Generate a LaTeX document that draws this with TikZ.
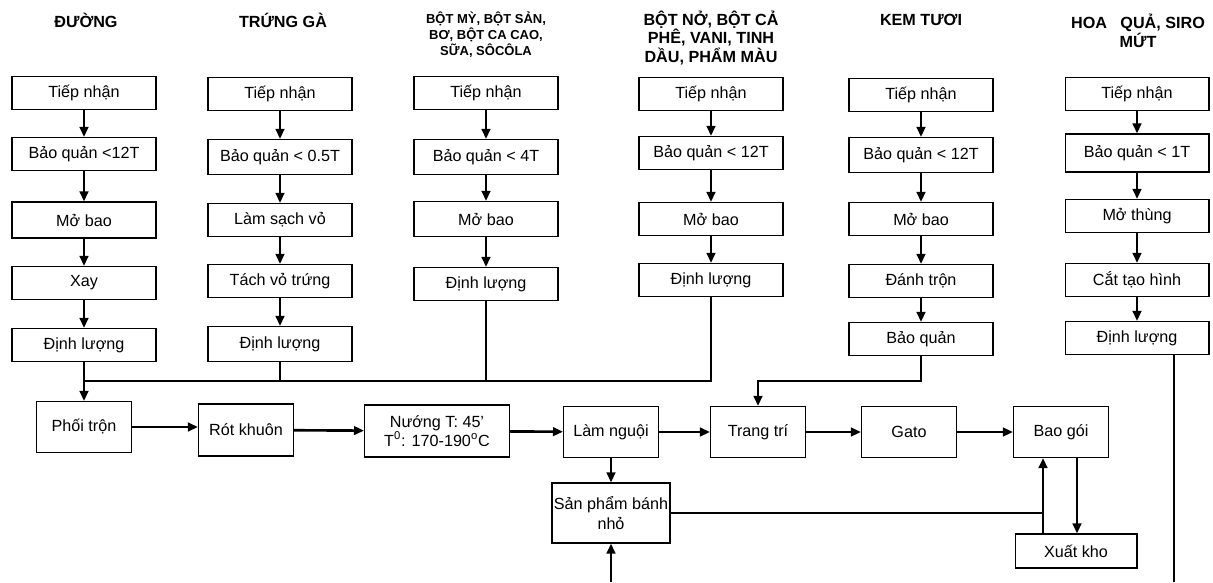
\documentclass[tikz,border=0pt]{standalone}
\usepackage{fontspec}
\setmainfont{Liberation Sans}
\usetikzlibrary{arrows.meta,positioning,calc}

\begin{document}
\begin{tikzpicture}[
  x=0.02cm, y=-0.02cm,
  box/.style={rectangle, draw, line width=0.6pt, align=center, font=\fontsize{9.2}{11}\selectfont, inner sep=1pt, minimum width=2.88cm, minimum height=0.66cm},
  stage/.style={box, minimum width=1.9cm, minimum height=1.02cm},
  head/.style={align=center, font=\fontsize{9.2}{10.6}\selectfont\bfseries},
  arrow/.style={-{Triangle[length=2mm,width=1.7mm]}, line width=1.5pt},
  link/.style={line width=1.2pt},
]
\useasboundingbox (0,0) rectangle (1213,582);

% === ĐƯỜNG ===
\node[head] (h1) at (86,20) {ĐƯỜNG};
\node[box] (d1) at (84,93) {Tiếp nhận};
\node[box] (d2) at (84,154) {Bảo quản <12T};
\node[box, minimum height=0.72cm] (d3) at (84,220) {Mở bao};
\node[box] (d4) at (84,283) {Xay};
\node[box] (d5) at (84,345) {Định lượng};
\draw[arrow] (d1) -- (d2);
\draw[arrow] (d2) -- (d3);
\draw[arrow] (d3) -- (d4);
\draw[arrow] (d4) -- (d5);

% === TRỨNG GÀ ===
\node[head] (h2) at (283,20) {TRỨNG GÀ};
\node[box] (t1) at (280,94) {Tiếp nhận};
\node[box, minimum height=0.7cm] (t2) at (280,157) {Bảo quản < 0.5T};
\node[box] (t3) at (280,220) {Làm sạch vỏ};
\node[box] (t4) at (280,281) {Tách vỏ trứng};
\node[box, minimum height=0.7cm] (t5) at (280,344) {Định lượng};
\draw[arrow] (t1) -- (t2);
\draw[arrow] (t2) -- (t3);
\draw[arrow] (t3) -- (t4);
\draw[arrow] (t4) -- (t5);

% === BỘT MỲ ===
\node[head, font=\fontsize{7.4}{9.1}\selectfont\bfseries] (h3) at (486,35) {BỘT MỲ, BỘT SẢN,\\BƠ, BỘT CA CAO,\\SỮA, SÔCÔLA};
\node[box] (b1) at (486,93) {Tiếp nhận};
\node[box, minimum height=0.7cm] (b2) at (486,157) {Bảo quản < 4T};
\node[box, minimum height=0.7cm] (b3) at (486,219) {Mở bao};
\node[box] (b4) at (486,284) {Định lượng};
\draw[arrow] (b1) -- (b2);
\draw[arrow] (b2) -- (b3);
\draw[arrow] (b3) -- (b4);

% === BỘT NỞ ===
\node[head] (h4) at (711,38) {BỘT NỞ, BỘT CẢ\\PHÊ, VANI, TINH\\DẦU, PHẨM MÀU};
\node[box] (n1) at (711,94) {Tiếp nhận};
\node[box] (n2) at (711,153) {Bảo quản < 12T};
\node[box] (n3) at (711,219) {Mở bao};
\node[box] (n4) at (711,280) {Định lượng};
\draw[arrow] (n1) -- (n2);
\draw[arrow] (n2) -- (n3);
\draw[arrow] (n3) -- (n4);

% === KEM TƯƠI ===
\node[head] (h5) at (921,20) {KEM TƯƠI};
\node[box] (k1) at (921,95) {Tiếp nhận};
\node[box, minimum height=0.7cm] (k2) at (921,155) {Bảo quản < 12T};
\node[box] (k3) at (921,219) {Mở bao};
\node[box] (k4) at (921,281) {Đánh trộn};
\node[box] (k5) at (921,339) {Bảo quản};
\draw[arrow] (k1) -- (k2);
\draw[arrow] (k2) -- (k3);
\draw[arrow] (k3) -- (k4);
\draw[arrow] (k4) -- (k5);

% === HOA QUẢ ===
\node[head] (h6) at (1138,31) {HOA \ \ QUẢ, SIRO\\MỨT};
\node[box] (q1) at (1137,94) {Tiếp nhận};
\node[box, minimum height=0.76cm] (q2) at (1137,153) {Bảo quản < 1T};
\node[box] (q3) at (1137,216) {Mở thùng};
\node[box] (q4) at (1137,280) {Cắt tạo hình};
\node[box] (q5) at (1137,338) {Định lượng};
\draw[arrow] (q1) -- (q2);
\draw[arrow] (q2) -- (q3);
\draw[arrow] (q3) -- (q4);
\draw[arrow] (q4) -- (q5);

% === dây chuyền chính ===
\node[stage] (phoitron) at (84,427) {Phối trộn};
\node[stage, minimum height=1.04cm] (rotkhuon) at (246,430) {Rót khuôn};
\node[stage, minimum width=2.9cm, minimum height=1.04cm] (nuong) at (437,431) {Nướng T: 45’\\T\textsuperscript{0}: 170-190\textsuperscript{o}C};
\node[stage] (lamnguoi) at (611,432) {Làm nguội};
\node[stage] (trangtri) at (758,432) {Trang trí};
\node[stage] (gato) at (909,432) {Gato};
\node[stage] (baogoi) at (1061,432) {Bao gói};
\node[stage, minimum width=2.36cm, minimum height=1.2cm] (sanpham) at (611,513) {Sản phẩm bánh\\nhỏ};
\node[box, minimum width=2.44cm, minimum height=0.68cm] (xuatkho) at (1076,551) {Xuất kho};

% gom nguyên liệu
\coordinate (busL) at (84,381);
\coordinate (kbend) at (921,381);
\draw[arrow] (d5) -- (phoitron);
\draw[link] (n4.south) |- (busL);
\draw[link] (t5.south) -- (t5.south |- busL);
\draw[link] (b4.south) -- (b4.south |- busL);
\draw[arrow] (k5.south) -- (kbend) -| (trangtri.north);
\coordinate (qend) at (1174,582);
\draw[link] (q5.south -| qend) -- (qend);

\draw[arrow] (phoitron.east) -- (phoitron.east -| rotkhuon.west);
\draw[arrow] (rotkhuon) -- (nuong);
\draw[arrow] (nuong) -- (lamnguoi);
\draw[arrow] (lamnguoi) -- (trangtri);
\draw[arrow] (trangtri) -- (gato);
\draw[arrow] (gato) -- (baogoi);
\draw[arrow] (lamnguoi) -- (sanpham);
\coordinate (spin) at (611,582);
\draw[arrow] (spin) -- (sanpham.south);

% kho
\coordinate (xup) at ([xshift=-0.66cm]xuatkho.north);
\coordinate (xdown) at ([xshift=0.32cm]baogoi.south);
\draw[arrow] (xup) -- (xup |- baogoi.south);
\draw[arrow] (xdown) -- (xdown |- xuatkho.north);
\draw[link] (sanpham.east) -- (sanpham.east -| xup);

\end{tikzpicture}
\end{document}
